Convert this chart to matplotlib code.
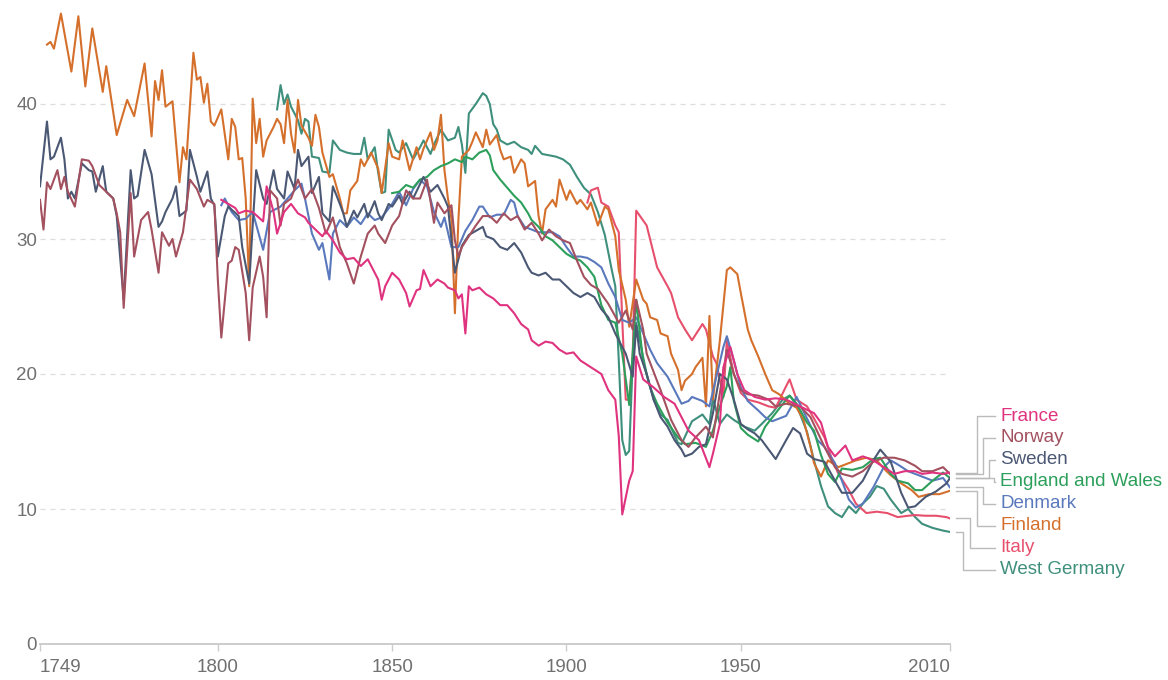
import matplotlib
matplotlib.use("Agg")
import matplotlib.pyplot as plt
from matplotlib.lines import Line2D

# -----------------------------
# Crude birth rate per 1,000
# -----------------------------
countries = ["France", "Norway", "Sweden", "England and Wales",
             "Denmark", "Finland", "Italy", "West Germany"]
colors = ["#e0337f", "#a3505f", "#4b5874", "#2c9f5b",
          "#5a79bd", "#d5702c", "#e7506d", "#3f8f7d"]

finland_years = [1751, 1752, 1753, 1755, 1758, 1760, 1762, 1764, 1767, 1768, 1771, 1774, 1776, 1779, 1781,
                 1782, 1783, 1784, 1785, 1787, 1789, 1790, 1791, 1793, 1794, 1795, 1796, 1797, 1798, 1799,
                 1801, 1803, 1804, 1805, 1806, 1807, 1808, 1809, 1810, 1811, 1812, 1813, 1814, 1816, 1817,
                 1818, 1819, 1820, 1821, 1822, 1823, 1824, 1826, 1827, 1828, 1829, 1830, 1832, 1833, 1835,
                 1836, 1837, 1838, 1840, 1841, 1842, 1844, 1846, 1847, 1849, 1850, 1852, 1853, 1855, 1857,
                 1858, 1859, 1861, 1862, 1863, 1864, 1865, 1866, 1867, 1868, 1869, 1870, 1872, 1873, 1874,
                 1876, 1877, 1878, 1880, 1881, 1882, 1884, 1885, 1887, 1888, 1889, 1891, 1892, 1893, 1894,
                 1896, 1897, 1898, 1900, 1901, 1903, 1904, 1906, 1907, 1909, 1911, 1912, 1914, 1915, 1917,
                 1918, 1920, 1922, 1923, 1924, 1926, 1927, 1929, 1930, 1932, 1933, 1934, 1936, 1937, 1939,
                 1940, 1941, 1942, 1943, 1944, 1946, 1947, 1949, 1950, 1952, 1953, 1955, 1957, 1959, 1961,
                 1964, 1966, 1968, 1970, 1971, 1973, 1975, 1978, 1983, 1986, 1989, 1991, 1993, 1996, 1999,
                 2001, 2004, 2007, 2010]
finland_rate = [44.4, 44.6, 44.1, 46.7, 42.4, 46.5, 41.3, 45.6, 40.9, 42.8, 37.7, 40.3, 39.1, 43.0, 37.6,
                41.7, 40.3, 42.5, 39.8, 40.2, 34.2, 36.8, 35.9, 43.8, 41.8, 42.0, 40.1, 41.5, 38.7, 38.4,
                39.6, 35.9, 38.9, 38.3, 35.9, 36.0, 33.0, 26.5, 40.4, 37.1, 38.9, 36.1, 37.3, 38.3, 38.9,
                38.5, 37.1, 40.3, 37.8, 36.4, 40.3, 38.4, 37.5, 36.9, 39.2, 38.3, 36.4, 34.6, 34.8, 33.0,
                31.9, 31.9, 33.6, 34.3, 35.9, 35.4, 36.4, 35.2, 33.4, 37.1, 36.1, 35.9, 37.3, 35.1, 36.8,
                35.9, 36.7, 37.9, 36.6, 37.3, 39.2, 35.1, 33.0, 31.5, 24.5, 31.4, 36.1, 36.6, 37.2, 37.9,
                36.8, 38.1, 37.0, 37.7, 36.6, 35.9, 36.1, 34.9, 35.9, 35.6, 33.9, 34.3, 31.7, 30.4, 32.2,
                32.9, 32.4, 34.4, 32.9, 33.6, 32.6, 32.9, 32.2, 32.7, 31.0, 32.4, 32.2, 30.2, 27.7, 25.5,
                23.5, 27.0, 25.5, 25.2, 24.2, 24.0, 23.0, 22.8, 21.5, 20.3, 18.8, 19.5, 20.0, 20.5, 21.2,
                17.6, 24.3, 18.1, 20.3, 22.5, 27.7, 27.9, 27.4, 26.0, 23.3, 22.5, 21.3, 20.0, 18.8, 18.5,
                17.8, 17.5, 16.6, 14.6, 13.4, 12.4, 13.6, 13.1, 13.6, 13.8, 13.6, 13.0, 12.5, 11.9, 11.4,
                10.9, 11.1, 11.1, 11.35]

sweden_years = [1749, 1751, 1752, 1753, 1755, 1756, 1757, 1758, 1759, 1761, 1763, 1764, 1765, 1767, 1768,
                1770, 1771, 1773, 1775, 1776, 1777, 1779, 1781, 1783, 1784, 1785, 1787, 1788, 1789, 1791,
                1792, 1794, 1795, 1797, 1798, 1799, 1800, 1802, 1803, 1806, 1807, 1809, 1810, 1811, 1813,
                1814, 1816, 1817, 1819, 1820, 1822, 1823, 1824, 1826, 1827, 1829, 1830, 1832, 1833, 1835,
                1836, 1837, 1839, 1840, 1842, 1843, 1845, 1846, 1847, 1849, 1850, 1852, 1853, 1855, 1856,
                1859, 1861, 1863, 1865, 1866, 1868, 1870, 1872, 1874, 1876, 1877, 1879, 1881, 1883, 1885,
                1887, 1889, 1890, 1892, 1894, 1896, 1898, 1900, 1902, 1904, 1906, 1908, 1910, 1912, 1914,
                1917, 1919, 1920, 1921, 1923, 1925, 1927, 1929, 1931, 1933, 1934, 1936, 1938, 1940, 1942,
                1944, 1946, 1948, 1950, 1952, 1954, 1956, 1958, 1960, 1963, 1965, 1967, 1969, 1971, 1974,
                1977, 1979, 1982, 1985, 1988, 1990, 1993, 1996, 1998, 2000, 2003, 2006, 2009, 2010]
sweden_rate = [33.9, 38.7, 35.9, 36.1, 37.5, 35.9, 33.0, 33.5, 33.0, 35.6, 35.1, 35.0, 33.5, 35.4, 33.5,
               33.0, 31.7, 25.5, 35.1, 33.0, 33.2, 36.6, 34.8, 30.9, 31.3, 32.0, 33.0, 33.9, 31.7, 32.1,
               36.6, 34.6, 33.5, 35.0, 33.0, 32.5, 28.7, 31.7, 32.4, 31.7, 29.4, 26.7, 31.0, 35.1, 33.0,
               32.6, 35.1, 33.7, 33.0, 35.0, 33.7, 36.6, 35.4, 36.1, 33.4, 34.6, 31.9, 31.3, 33.9, 32.6,
               31.9, 30.9, 32.1, 31.6, 32.6, 31.6, 32.8, 31.9, 31.4, 32.6, 32.4, 33.2, 32.6, 33.5, 33.0,
               34.6, 33.5, 34.0, 33.0, 32.4, 27.5, 29.5, 30.3, 30.6, 30.9, 30.2, 30.0, 29.4, 29.2, 29.7,
               29.0, 27.9, 27.5, 27.3, 27.5, 27.0, 27.0, 26.5, 26.0, 25.7, 26.0, 25.7, 24.8, 24.2, 23.0,
               21.5, 19.8, 23.6, 21.5, 20.0, 18.1, 16.8, 16.1, 15.1, 14.4, 13.9, 14.1, 14.6, 14.8, 17.1,
               20.0, 19.6, 18.1, 16.3, 15.9, 15.6, 15.1, 14.4, 13.7, 15.1, 16.0, 15.6, 14.1, 13.7, 13.5,
               12.1, 11.2, 11.2, 12.1, 13.6, 14.4, 13.5, 11.2, 10.1, 10.2, 10.9, 11.3, 11.9, 12.3]

norway_years = [1749, 1750, 1751, 1752, 1754, 1755, 1756, 1757, 1759, 1761, 1763, 1764, 1766, 1768, 1770,
                1771, 1772, 1773, 1775, 1776, 1778, 1780, 1781, 1783, 1784, 1786, 1787, 1788, 1790, 1792,
                1794, 1796, 1797, 1799, 1800, 1801, 1803, 1804, 1805, 1806, 1808, 1809, 1810, 1812, 1813,
                1814, 1815, 1817, 1818, 1819, 1821, 1823, 1825, 1827, 1829, 1831, 1833, 1835, 1837, 1839,
                1841, 1843, 1845, 1846, 1848, 1850, 1852, 1854, 1856, 1858, 1860, 1862, 1863, 1865, 1867,
                1868, 1869, 1870, 1872, 1874, 1876, 1878, 1880, 1882, 1884, 1886, 1888, 1890, 1892, 1893,
                1895, 1897, 1899, 1901, 1903, 1905, 1907, 1909, 1912, 1915, 1917, 1919, 1920, 1922, 1923,
                1927, 1930, 1933, 1935, 1937, 1940, 1942, 1944, 1946, 1948, 1950, 1952, 1955, 1958, 1960,
                1963, 1967, 1970, 1974, 1977, 1979, 1982, 1985, 1988, 1991, 1994, 1997, 2000, 2002, 2005,
                2008, 2010]
norway_rate = [32.9, 30.7, 34.2, 33.7, 35.1, 33.7, 34.6, 33.5, 32.4, 35.9, 35.8, 35.4, 34.0, 33.5, 33.0,
               31.9, 30.5, 24.9, 33.4, 28.7, 31.4, 32.0, 30.7, 27.5, 30.5, 29.5, 30.0, 28.7, 30.5, 34.4,
               33.7, 32.4, 32.9, 32.6, 27.0, 22.7, 28.2, 28.4, 29.4, 29.2, 26.0, 22.5, 26.4, 28.7, 27.2,
               24.2, 33.6, 33.0, 31.0, 32.6, 33.0, 34.4, 33.0, 33.7, 32.3, 30.4, 31.6, 29.4, 28.2, 26.7,
               28.7, 30.4, 31.0, 30.4, 29.7, 31.0, 31.7, 33.6, 33.0, 33.0, 34.4, 31.2, 32.7, 31.9, 32.5,
               29.9, 28.7, 29.4, 30.2, 31.0, 31.7, 31.7, 31.2, 31.9, 31.4, 31.7, 30.7, 31.2, 30.4, 29.9,
               30.7, 30.2, 29.9, 29.7, 28.4, 27.2, 26.6, 26.3, 25.2, 23.8, 24.7, 23.3, 25.5, 23.3, 21.5,
               18.8, 16.6, 15.1, 14.6, 15.3, 16.1, 15.3, 18.6, 21.8, 20.0, 18.8, 18.5, 18.4, 18.1, 17.6,
               17.8, 17.6, 16.8, 14.6, 13.1, 12.6, 12.4, 12.8, 13.5, 13.8, 13.8, 13.6, 13.2, 12.8, 12.8,
               13.1, 12.6]

denmark_years = [1801, 1802, 1804, 1806, 1808, 1810, 1813, 1815, 1818, 1820, 1822, 1824, 1825, 1827, 1829,
                 1830, 1832, 1833, 1835, 1837, 1839, 1841, 1843, 1845, 1847, 1850, 1852, 1854, 1856, 1858,
                 1860, 1862, 1864, 1865, 1867, 1869, 1871, 1873, 1875, 1876, 1878, 1880, 1882, 1884, 1885,
                 1886, 1888, 1890, 1892, 1894, 1896, 1898, 1900, 1902, 1904, 1906, 1908, 1910, 1912, 1914,
                 1916, 1918, 1920, 1922, 1924, 1926, 1929, 1931, 1933, 1935, 1936, 1939, 1941, 1943, 1945,
                 1946, 1948, 1950, 1952, 1955, 1957, 1959, 1963, 1966, 1969, 1972, 1974, 1977, 1979, 1981,
                 1983, 1985, 1988, 1991, 1993, 1995, 1998, 2000, 2002, 2005, 2008, 2010]
denmark_rate = [32.5, 33.0, 32.0, 31.4, 31.5, 32.0, 29.2, 32.0, 32.4, 33.0, 33.6, 34.1, 33.0, 30.4, 29.2,
                29.7, 27.0, 30.4, 31.4, 30.9, 31.6, 31.1, 31.9, 31.4, 31.6, 32.6, 33.5, 32.5, 33.7, 34.4,
                33.9, 32.0, 30.9, 31.6, 29.4, 29.4, 30.6, 31.4, 32.4, 32.4, 31.6, 31.8, 31.8, 32.9, 32.7,
                31.7, 30.9, 30.7, 30.5, 30.5, 30.5, 30.2, 29.4, 28.7, 28.7, 28.6, 28.3, 27.9, 26.7, 25.7,
                24.0, 23.8, 24.2, 23.0, 21.8, 20.8, 19.8, 18.8, 17.8, 18.0, 18.3, 18.0, 17.6, 19.8, 22.0,
                22.8, 21.0, 19.0, 18.0, 17.3, 16.8, 16.5, 16.9, 18.3, 16.7, 15.1, 14.6, 13.4, 12.1, 10.7,
                10.1, 10.4, 11.6, 13.1, 13.6, 13.3, 12.8, 12.6, 12.4, 12.1, 12.3, 11.6]

france_years = [1801, 1803, 1805, 1806, 1808, 1810, 1813, 1814, 1816, 1817, 1819, 1821, 1823, 1825, 1826,
                1828, 1830, 1831, 1833, 1835, 1837, 1839, 1841, 1843, 1845, 1846, 1847, 1848, 1850, 1852,
                1854, 1855, 1857, 1858, 1859, 1861, 1863, 1865, 1866, 1868, 1869, 1870, 1871, 1872, 1873,
                1875, 1877, 1879, 1881, 1883, 1885, 1887, 1889, 1890, 1892, 1894, 1896, 1898, 1900, 1902,
                1904, 1907, 1910, 1912, 1914, 1915, 1916, 1918, 1919, 1920, 1922, 1925, 1928, 1931, 1933,
                1935, 1938, 1941, 1942, 1944, 1945, 1947, 1949, 1951, 1954, 1957, 1960, 1963, 1967, 1971,
                1973, 1975, 1977, 1980, 1982, 1985, 1988, 1991, 1994, 1997, 2000, 2002, 2005, 2008, 2010]
france_rate = [32.9, 32.6, 32.3, 31.9, 32.1, 32.0, 31.3, 33.9, 32.0, 30.4, 32.0, 32.6, 31.9, 31.6, 31.2,
               30.7, 30.2, 30.6, 29.9, 29.0, 28.5, 28.6, 28.0, 28.5, 27.5, 27.0, 25.5, 26.5, 27.5, 27.0,
               26.0, 25.0, 26.2, 26.3, 27.7, 26.5, 27.0, 26.7, 26.4, 26.2, 25.6, 25.9, 23.0, 26.5, 26.2,
               26.4, 25.9, 25.6, 25.1, 25.1, 24.5, 23.7, 23.3, 22.5, 22.1, 22.4, 22.3, 21.8, 21.5, 21.6,
               21.0, 20.5, 20.0, 18.8, 18.1, 15.4, 9.6, 12.1, 12.8, 21.3, 19.6, 19.0, 18.3, 17.8, 16.8,
               15.8, 15.1, 13.1, 14.1, 16.3, 20.5, 22.0, 20.0, 18.8, 18.3, 18.1, 18.2, 18.1, 17.6, 17.1,
               16.4, 14.6, 13.9, 14.7, 13.6, 13.9, 13.6, 13.1, 12.6, 12.8, 12.8, 12.6, 12.7, 12.6, 12.7]

italy_years = [1906, 1907, 1909, 1910, 1912, 1914, 1915, 1916, 1917, 1918, 1919, 1920, 1923, 1926, 1929,
               1930, 1932, 1934, 1936, 1939, 1940, 1942, 1943, 1945, 1946, 1948, 1950, 1952, 1955, 1958,
               1960, 1963, 1964, 1966, 1969, 1971, 1974, 1976, 1978, 1981, 1983, 1986, 1989, 1992, 1995,
               1998, 2000, 2003, 2006, 2009, 2010]
italy_rate = [32.7, 33.6, 33.8, 32.7, 32.4, 31.0, 30.5, 24.0, 18.1, 18.1, 21.4, 32.1, 31.0, 27.9, 26.5,
              26.0, 24.2, 23.3, 22.5, 23.7, 23.3, 21.3, 20.8, 18.3, 22.5, 20.0, 18.6, 18.1, 17.9, 17.6,
              17.5, 19.1, 19.6, 18.1, 17.6, 16.7, 15.3, 13.8, 12.6, 11.4, 10.4, 9.7, 9.8, 9.7, 9.4,
              9.5, 9.55, 9.5, 9.5, 9.4, 9.3]

england_years = [1850, 1852, 1854, 1856, 1858, 1860, 1862, 1864, 1866, 1868, 1870, 1871, 1873, 1875, 1877,
                 1878, 1879, 1881, 1883, 1885, 1887, 1889, 1890, 1892, 1894, 1896, 1898, 1900, 1902, 1904,
                 1906, 1908, 1910, 1912, 1914, 1916, 1918, 1920, 1922, 1924, 1926, 1929, 1932, 1934, 1937,
                 1940, 1942, 1944, 1946, 1947, 1948, 1950, 1952, 1955, 1957, 1960, 1963, 1964, 1966, 1969,
                 1971, 1973, 1975, 1977, 1979, 1982, 1985, 1988, 1990, 1993, 1995, 1998, 2000, 2002, 2005,
                 2008, 2010]
england_rate = [33.4, 33.5, 34.0, 33.8, 34.4, 34.6, 35.1, 35.4, 35.6, 35.9, 35.7, 36.1, 35.9, 36.4, 36.6,
                36.2, 35.1, 34.4, 33.8, 33.2, 32.7, 31.9, 31.4, 30.9, 30.2, 29.9, 29.4, 28.9, 28.6, 28.4,
                27.9, 27.2, 25.1, 24.0, 23.8, 21.5, 17.7, 25.5, 20.9, 19.0, 17.8, 16.4, 15.3, 14.8, 14.9,
                14.6, 15.8, 17.6, 19.1, 20.5, 18.0, 16.0, 15.5, 15.0, 16.1, 17.1, 18.1, 18.4, 17.8, 16.4,
                15.8, 14.0, 12.6, 12.0, 13.0, 12.9, 13.1, 13.7, 13.8, 12.6, 12.1, 11.9, 11.4, 11.4, 12.1,
                12.7, 12.3]

germany_years = [1817, 1818, 1819, 1820, 1821, 1822, 1823, 1824, 1825, 1826, 1827, 1829, 1830, 1832, 1833,
                 1835, 1837, 1839, 1841, 1842, 1843, 1845, 1846, 1847, 1848, 1849, 1851, 1852, 1854, 1856,
                 1858, 1859, 1861, 1862, 1864, 1866, 1868, 1869, 1870, 1871, 1872, 1874, 1876, 1877, 1878,
                 1879, 1880, 1881, 1883, 1885, 1887, 1889, 1890, 1891, 1893, 1895, 1897, 1899, 1901, 1903,
                 1905, 1907, 1909, 1911, 1913, 1914, 1915, 1916, 1917, 1918, 1919, 1920, 1921, 1923, 1925,
                 1927, 1929, 1932, 1933, 1936, 1939, 1941, 1942, 1944, 1946, 1948, 1951, 1954, 1956, 1959,
                 1962, 1964, 1966, 1969, 1971, 1973, 1975, 1977, 1979, 1981, 1983, 1985, 1987, 1989, 1991,
                 1993, 1996, 1998, 2000, 2002, 2005, 2008, 2010]
germany_rate = [39.6, 41.4, 40.0, 40.7, 39.8, 39.3, 38.8, 37.8, 38.9, 38.7, 36.1, 36.0, 35.0, 34.9, 37.3,
                36.6, 36.4, 36.3, 36.3, 37.5, 35.9, 36.8, 34.9, 33.4, 33.5, 38.1, 36.6, 36.4, 37.1, 35.9,
                36.8, 37.3, 36.3, 37.0, 38.1, 37.3, 37.5, 38.3, 37.0, 34.9, 39.3, 40.0, 40.8, 40.6, 40.0,
                38.5, 38.1, 37.3, 37.0, 37.2, 36.8, 36.6, 36.3, 36.9, 36.3, 36.2, 36.1, 35.9, 35.5, 34.6,
                33.8, 33.3, 32.0, 30.3, 27.7, 26.5, 21.0, 15.1, 14.0, 14.3, 21.0, 23.8, 22.5, 20.0, 18.1,
                17.0, 16.6, 14.9, 14.8, 16.5, 17.0, 16.3, 18.2, 16.3, 17.0, 16.6, 16.1, 15.8, 16.3, 17.1,
                18.1, 18.4, 17.7, 15.7, 13.6, 11.7, 10.2, 9.7, 9.4, 10.2, 9.7, 10.4, 10.9, 11.7, 11.5,
                10.7, 9.7, 10.0, 9.4, 8.9, 8.6, 8.4, 8.3]

series_years = [france_years, norway_years, sweden_years, england_years,
                denmark_years, finland_years, italy_years, germany_years]
series_rate = [france_rate, norway_rate, sweden_rate, england_rate,
               denmark_rate, finland_rate, italy_rate, germany_rate]

x_ticks = [1749, 1800, 1850, 1900, 1950, 2010]
y_ticks = [0, 10, 20, 30, 40]

# legend label rows and elbow x positions (pixels)
label_y_px = [416, 438, 460, 482, 504, 526, 548, 570]
elbow_x_px = [977, 983, 989, 994, 983, 977, 970, 963]

W, H = 1168, 680
plt.rcParams["font.family"] = ["Liberation Sans", "DejaVu Sans"]

fig = plt.figure(figsize=(W / 100, H / 100), dpi=100)
ax = fig.add_axes([40 / W, 36 / H, 910 / W, 634.5 / H])

# draw in reverse so France sits on top
for i in reversed(range(len(countries))):
    ax.plot(series_years[i], series_rate[i], color=colors[i], lw=1.5, solid_joinstyle="round")

ax.set_xlim(1749, 2010)
ax.set_ylim(0, 47)

for v in y_ticks[1:]:
    ax.axhline(v, color="#dddddd", lw=0.9, ls=(0, (4, 4)), zorder=0)

for s in ["top", "right", "left"]:
    ax.spines[s].set_visible(False)
ax.spines["bottom"].set_color("#cccccc")
ax.spines["bottom"].set_linewidth(1.4)

ax.set_yticks(y_ticks)
ax.set_yticklabels([str(v) for v in y_ticks])
ax.tick_params(axis="y", length=0, pad=2, labelsize=13.5, labelcolor="#707070")
ax.set_xticks(x_ticks)
ax.set_xticklabels([str(v) for v in x_ticks])
ax.tick_params(axis="x", length=5, width=1, color="#cccccc", pad=6, labelsize=13.5, labelcolor="#707070")
xl = ax.get_xticklabels()
xl[0].set_ha("left")
xl[-1].set_ha("right")

# legend with elbow connectors
fig.canvas.draw()
for i, name in enumerate(countries):
    end_px = ax.transData.transform((2010, series_rate[i][-1]))
    y0 = H - end_px[1]
    xs = [956, elbow_x_px[i], elbow_x_px[i], 995]
    ys = [y0, y0, label_y_px[i], label_y_px[i]]
    fig.add_artist(Line2D([x / W for x in xs], [1 - y / H for y in ys],
                          color="#bbbbbb", lw=1.0, transform=fig.transFigure))
    fig.text(1000 / W, 1 - label_y_px[i] / H, name, color=colors[i], fontsize=13.5,
             ha="left", va="center")

fig.savefig("out.png", dpi=100)
